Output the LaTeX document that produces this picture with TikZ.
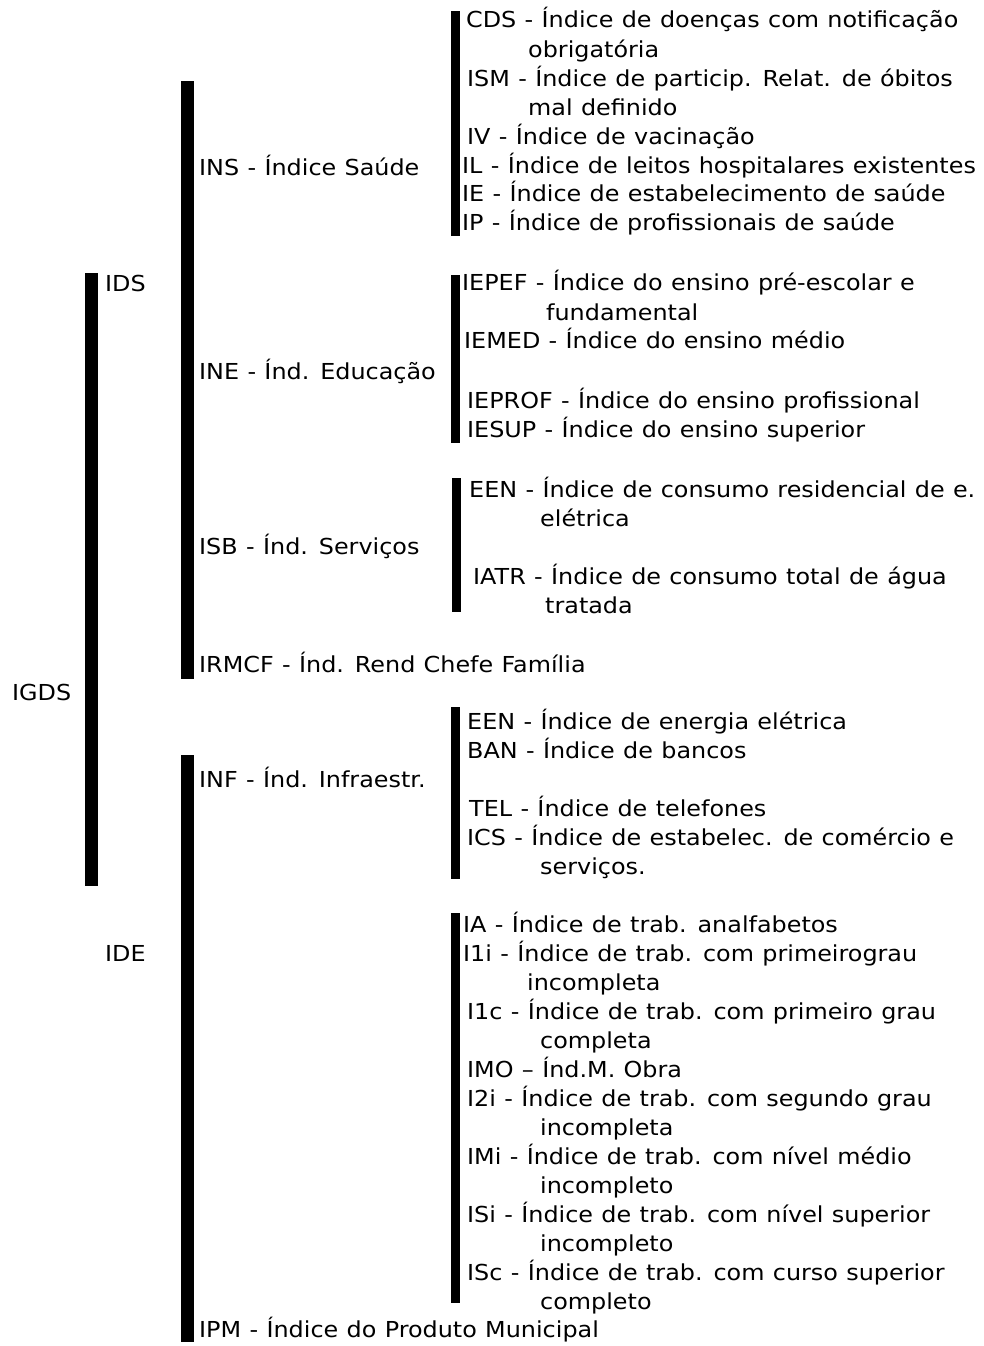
\documentclass[tikz,border=0pt]{standalone}
\usepackage{fontspec}
\setmainfont{DejaVu Sans}[FakeStretch=1.085, WordSpace=1.1]
\usepackage{tikz}
\tikzset{
	lbl/.style={anchor=base west, inner sep=0pt, font=\fontsize{22}{29}\selectfont},
	bar/.style={fill=black, draw=none}
}
\begin{document}
\begin{tikzpicture}[x=1pt, y=-1pt]
			\useasboundingbox (0,0) rectangle (984,1346);

			% Main bars
			\fill[bar] (85,273) rectangle (98,886); % IGDS
			\fill[bar] (181,81) rectangle (194,679); % IDS
			\fill[bar] (181,755) rectangle (194,1342); % IDE

			% Sub bars
			\fill[bar] (451,11) rectangle (460,236); % saude
			\fill[bar] (451,275) rectangle (460,443); % educacao
			\fill[bar] (452,478) rectangle (461,612); % servicos
			\fill[bar] (451,707) rectangle (460,879); % infraestr
			\fill[bar] (451,913) rectangle (460,1303); % mao de obra

			% Level 0 and 1
			\node[lbl] (igds) at (12,700) {IGDS};
			\node[lbl] (ids) at (105,291) {IDS};
			\node[lbl] (ide) at (105,961) {IDE};

			\node[lbl] (ins) at (199,175) {INS - Índice Saúde};
			\node[lbl] (ine) at (199,379) {INE - Índ. Educação};
			\node[lbl] (isb) at (199,554) {ISB - Índ. Serviços};
			\node[lbl] (irmcf) at (199,672) {IRMCF - Índ. Rend Chefe Família};
			\node[lbl] (inf) at (199,787) {INF - Índ. Infraestr.};
			\node[lbl] (ipm) at (199,1337) {IPM - Índice do Produto Municipal};

			% Saude
			\node[lbl] (cds) at (466,28) {CDS - Índice de doenças com notificação};
			\node[lbl] (cds2) at (528,57) {obrigatória};
			\node[lbl] (ism) at (467,86) {ISM - Índice de particip. Relat. de óbitos};
			\node[lbl] (ism2) at (528,115) {mal definido};
			\node[lbl] (iv) at (467,144) {IV - Índice de vacinação};
			\node[lbl] (il) at (462,173) {IL - Índice de leitos hospitalares existentes};
			\node[lbl] (ie) at (462,201) {IE - Índice de estabelecimento de saúde};
			\node[lbl] (ip) at (462,230) {IP - Índice de profissionais de saúde};

			% Educacao
			\node[lbl] (iepef) at (462,290) {IEPEF - Índice do ensino pré-escolar e};
			\node[lbl] (iepef2) at (546,320) {fundamental};
			\node[lbl] (iemed) at (464,348) {IEMED - Índice do ensino médio};
			\node[lbl] (ieprof) at (467,408) {IEPROF - Índice do ensino profissional};
			\node[lbl] (iesup) at (467,437) {IESUP - Índice do ensino superior};

			% Servicos
			\node[lbl] (een) at (469,497) {EEN - Índice de consumo residencial de e.};
			\node[lbl] (een2) at (540,526) {elétrica};
			\node[lbl] (iatr) at (473,584) {IATR - Índice de consumo total de água};
			\node[lbl] (iatr2) at (545,613) {tratada};

			% Infraestr
			\node[lbl] (eenb) at (467,729) {EEN - Índice de energia elétrica};
			\node[lbl] (ban) at (467,758) {BAN - Índice de bancos};
			\node[lbl] (tel) at (469,816) {TEL - Índice de telefones};
			\node[lbl] (ics) at (467,845) {ICS - Índice de estabelec. de comércio e};
			\node[lbl] (ics2) at (540,874) {serviços.};

			% Mao de obra
			\node[lbl] (ia) at (463,932) {IA - Índice de trab. analfabetos};
			\node[lbl] (iui) at (463,961) {I1i - Índice de trab. com primeirograu};
			\node[lbl] (iui2) at (527,990) {incompleta};
			\node[lbl] (iuc) at (467,1019) {I1c - Índice de trab. com primeiro grau};
			\node[lbl] (iuc2) at (540,1048) {completa};
			\node[lbl] (imo) at (467,1077) {IMO – Índ.M. Obra};
			\node[lbl] (idi) at (467,1106) {I2i - Índice de trab. com segundo grau};
			\node[lbl] (idi2) at (540,1135) {incompleta};
			\node[lbl] (imi) at (467,1164) {IMi - Índice de trab. com nível médio};
			\node[lbl] (imi2) at (540,1193) {incompleto};
			\node[lbl] (isi) at (467,1222) {ISi - Índice de trab. com nível superior};
			\node[lbl] (isi2) at (540,1251) {incompleto};
			\node[lbl] (isc) at (467,1280) {ISc - Índice de trab. com curso superior};
			\node[lbl] (isc2) at (540,1309) {completo};
		\end{tikzpicture}
\end{document}
